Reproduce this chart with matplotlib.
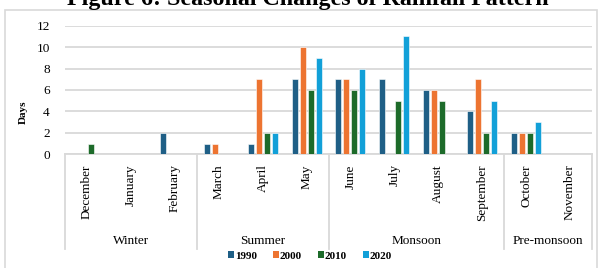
import matplotlib
matplotlib.use("Agg")
import matplotlib.pyplot as plt
from matplotlib.patches import Patch, Rectangle
import numpy as np

months = ["December", "January", "February", "March", "April", "May", "June",
          "July", "August", "September", "October", "November"]
seasons = ["Winter", "Summer", "Monsoon", "Pre-monsoon"]
season_sizes = [3, 3, 4, 2]
years = ["1990", "2000", "2010", "2020"]
days_1990 = [0, 0, 2, 1, 1, 7, 7, 7, 6, 4, 2, 0]
days_2000 = [0, 0, 0, 1, 7, 10, 7, 0, 6, 7, 2, 0]
days_2010 = [1, 0, 0, 0, 2, 6, 6, 5, 5, 2, 2, 0]
days_2020 = [0, 0, 0, 0, 2, 9, 8, 11, 0, 5, 3, 0]
series = [days_1990, days_2000, days_2010, days_2020]
colors = ["#1F5F86", "#ED7431", "#1D6B2A", "#12A0D8"]

plt.rcParams["font.family"] = ["Liberation Serif", "DejaVu Serif"]

W, H = 600, 268
fig = plt.figure(figsize=(W / 100, H / 100), dpi=100)

# outer light frame
fig.patches.append(Rectangle((5 / W, -0.01), 592 / W, 1 - 10 / H + 0.01,
                             transform=fig.transFigure, fill=False,
                             edgecolor="#d9d9d9", linewidth=1.2))

left, right, top, bottom = 65, 592, 25.7, 154.3
ax = fig.add_axes([left / W, 1 - bottom / H, (right - left) / W, (bottom - top) / H])

x = np.arange(len(months))
pitch, width = 0.182, 0.137
for k, (vals, col, yr) in enumerate(zip(series, colors, years)):
    ax.bar(x + (k - 1.5) * pitch, vals, width, color=col, edgecolor="white",
           linewidth=0.4, zorder=3, label=yr)

ax.set_xlim(-0.5, len(months) - 0.5)
ax.set_ylim(0, 12)
ax.set_yticks(range(0, 13, 2))
ax.yaxis.grid(True, color="#d9d9d9", linewidth=1.3, zorder=0)
ax.set_axisbelow(True)
for s in ["top", "right", "left"]:
    ax.spines[s].set_visible(False)
ax.spines["bottom"].set_color("#d9d9d9")
ax.spines["bottom"].set_linewidth(1.3)
ax.set_xticks([])
ax.tick_params(axis="y", length=0, pad=11, labelsize=9.5)

ax_h = bottom - top
for i, m in enumerate(months):
    ax.annotate(m, xy=(i, 0), xycoords=("data", "axes fraction"),
                xytext=(0, -10), textcoords="offset pixels",
                rotation=90, ha="center", va="top", fontsize=9.5)

sep_depth = -(249 - bottom) / ax_h
bounds = np.concatenate([[0], np.cumsum(season_sizes)]) - 0.5
for b in bounds:
    ax.plot([b, b], [0, sep_depth], transform=ax.get_xaxis_transform(),
            color="#d9d9d9", linewidth=1.3, clip_on=False)
season_y = -(240.5 - bottom) / ax_h
for s, a, b in zip(seasons, bounds[:-1], bounds[1:]):
    ax.text((a + b) / 2, season_y, s, transform=ax.get_xaxis_transform(),
            ha="center", va="center", fontsize=9.5)

fig.text(23 / W, 1 - 112 / H, "Days", rotation=90, ha="center", va="center",
         fontsize=8, fontweight="bold")

# title is partly cut off at the top edge in the source figure
fig.text(307.5 / W, 1 - 5 / H, "Figure 6: Seasonal Changes of Rainfall Pattern",
         ha="center", va="baseline", fontsize=17.3, fontweight="bold")

handles = [Patch(facecolor=c, edgecolor="none") for c in colors]
leg = fig.legend(handles, years, loc="center", ncol=4, frameon=False,
                 bbox_to_anchor=(310 / W, 1 - 256 / H), handlelength=0.55,
                 handleheight=0.55, handletextpad=0.1, columnspacing=1.4,
                 prop={"size": 8, "weight": "bold"})

fig.savefig("out.png", dpi=100)
